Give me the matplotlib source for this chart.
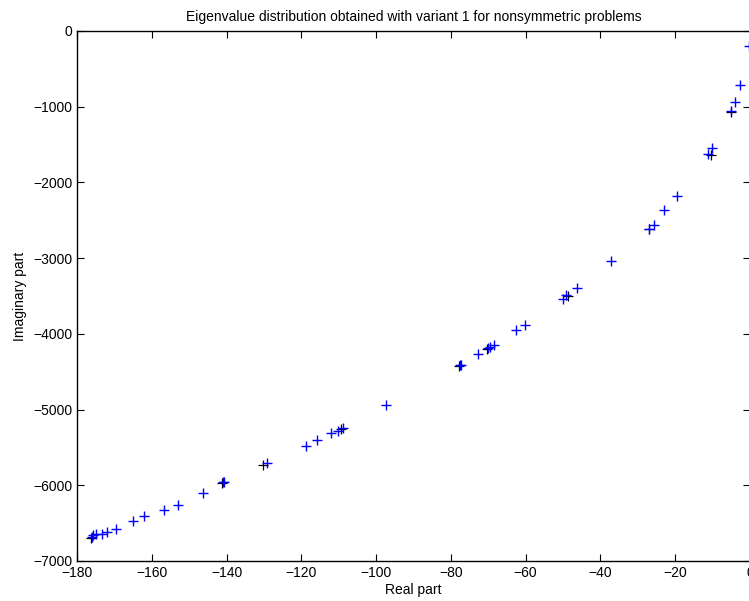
import matplotlib
matplotlib.use("Agg")
import matplotlib.pyplot as plt

plt.rcParams['font.family'] = ['Liberation Sans', 'DejaVu Sans']

# eigenvalues, blue series
real_blue = [-176.0, -175.7, -175.0, -173.3, -172.0, -169.6, -165.0, -162.0, -156.8,
             -152.9, -146.4, -141.0, -140.8, -129.3, -118.7, -115.7, -112.0, -110.1,
             -108.8, -97.3, -77.6, -77.3, -72.8, -70.1, -69.6, -68.5, -62.7, -60.3,
             -50.1, -49.1, -46.4, -37.3, -26.9, -25.6, -22.9, -19.5, -11.2, -10.1,
             -5.1, -4.0, -2.7, -0.3]
imag_blue = [-6684, -6658, -6640, -6638, -6620, -6580, -6470, -6410, -6320,
             -6260, -6100, -5960, -5950, -5707, -5482, -5403, -5311, -5284,
             -5245, -4941, -4412, -4405, -4267, -4188, -4180, -4148, -3950, -3884,
             -3540, -3487, -3395, -3038, -2610, -2560, -2365, -2180, -1625, -1546,
             -1057, -938, -713, -200]

# eigenvalues, black series (mostly hidden under blue)
real_black = [-176.2, -141.2, -130.2, -109.3, -77.8, -70.3, -48.6, -27.0, -10.3, -5.1]
imag_black = [-6690, -5965, -5735, -5260, -4420, -4195, -3500, -2615, -1640, -1065]

fig = plt.figure(figsize=(7.49, 6.01), dpi=100)
ax = fig.add_axes([77/749, 1 - 561/601, 673/749, 530/601])

ax.plot(real_black, imag_black, '+', color='black', markersize=7, markeredgewidth=0.9)
ax.plot(real_blue, imag_blue, '+', color='#0000ff', markersize=7, markeredgewidth=1)

ax.set_xlim(-180, 0)
ax.set_ylim(-7000, 0)
ax.set_xticks(range(-180, 1, 20))
ax.set_yticks(range(-7000, 1, 1000))
ax.tick_params(direction='in', top=True, right=True, labelsize=10, length=5)
for s in ax.spines.values():
    s.set_linewidth(1)

ax.set_xlabel('Real part', fontsize=10, labelpad=2)
ax.set_ylabel('Imaginary part', fontsize=10, labelpad=4)
ax.set_title('Eigenvalue distribution obtained with variant 1 for nonsymmetric problems',
             fontsize=10, pad=7)

fig.savefig('out.png', dpi=100)
